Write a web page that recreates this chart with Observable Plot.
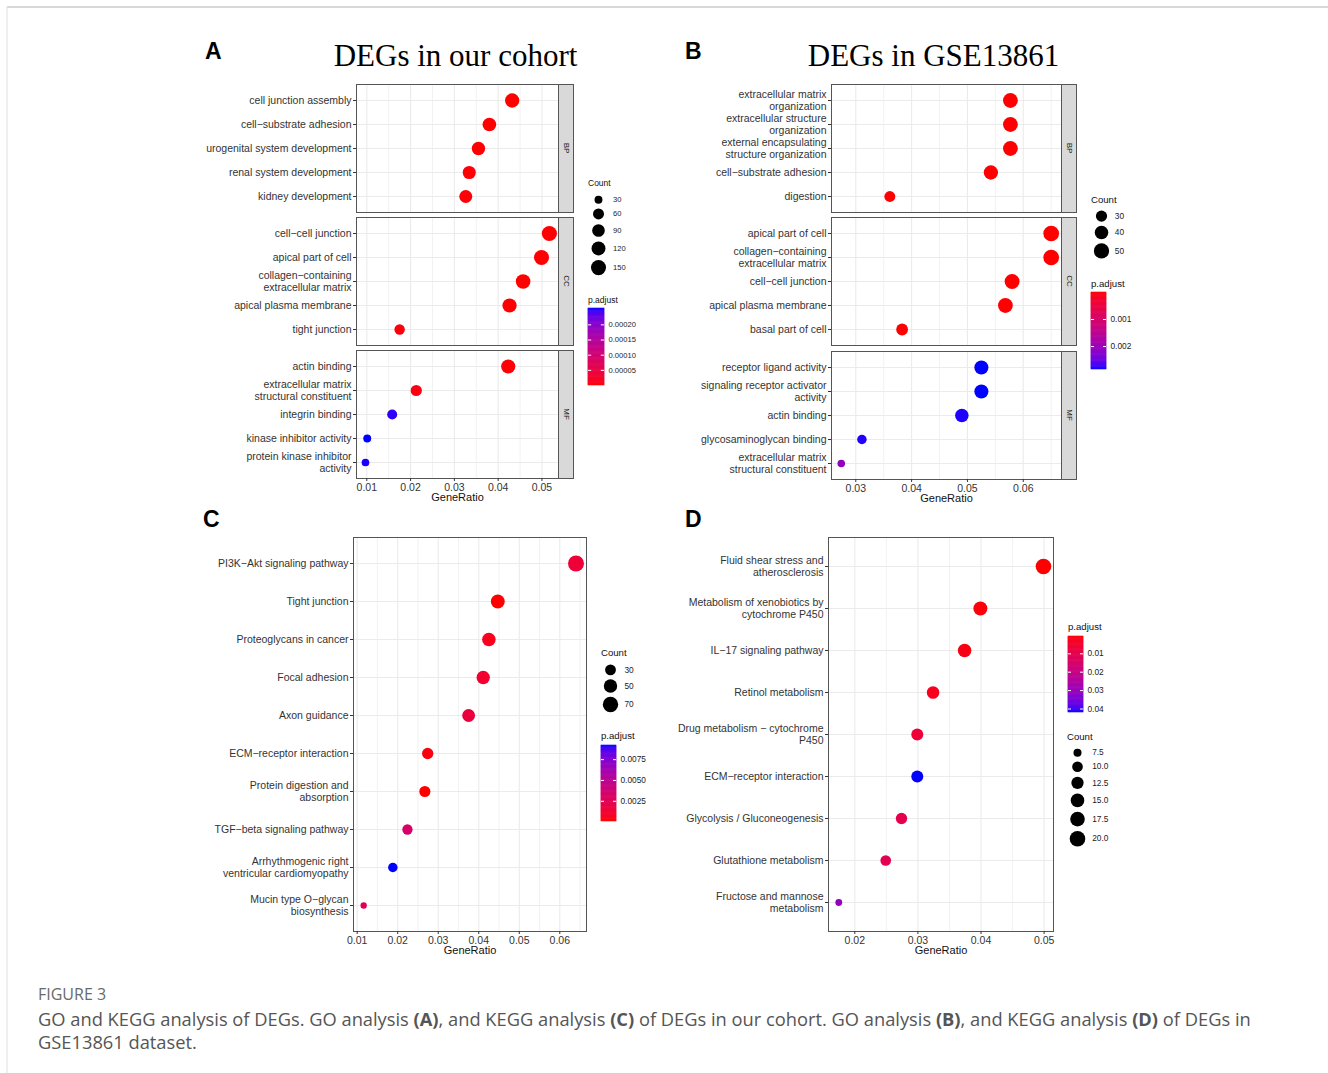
<!DOCTYPE html>
<html><head><meta charset="utf-8">
<script src="https://cdn.jsdelivr.net/npm/d3@7"></script>
<script src="https://cdn.jsdelivr.net/npm/@observablehq/plot@0.6"></script>
<style>
body{margin:0;background:#fff;}
#root{position:relative;width:1328px;height:1073px;overflow:hidden;background:#fff;}
.cap{position:absolute;left:38px;font-family:"Open Sans","Noto Sans",sans-serif;font-size:18.3px;line-height:23px;white-space:nowrap;}
</style></head><body><div id="root"></div>
<script>
// ---------------- DATA ----------------
// Panel A : DEGs in our cohort (GO)
const aBPTerms = ["cell junction assembly","cell−substrate adhesion","urogenital system development","renal system development","kidney development"];
const aBPRatio = [0.0432,0.0380,0.0355,0.0334,0.0326];
const aBPCount = [130,114,107,100,98];
const aBPPadj  = [2e-8,4e-7,1e-6,2e-6,3e-6];
const aCCTerms = ["cell−cell junction","apical part of cell","collagen−containing\nextracellular matrix","apical plasma membrane","tight junction"];
const aCCRatio = [0.0517,0.0499,0.0457,0.0426,0.0175];
const aCCCount = [155,150,137,128,52];
const aCCPadj  = [1e-8,5e-8,3e-7,6e-7,4e-6];
const aMFTerms = ["actin binding","extracellular matrix\nstructural constituent","integrin binding","kinase inhibitor activity","protein kinase inhibitor\nactivity"];
const aMFRatio = [0.0423,0.0213,0.0158,0.0101,0.0097];
const aMFCount = [127,64,47,30,29];
const aMFPadj  = [2e-6,8e-6,0.000248,0.000254,0.000252];
// Panel B : DEGs in GSE13861 (GO)
const bBPTerms = ["extracellular matrix\norganization","extracellular structure\norganization","external encapsulating\nstructure organization","cell−substrate adhesion","digestion"];
const bBPRatio = [0.0577,0.0577,0.0577,0.0542,0.0361];
const bBPCount = [47,47,47,44,29];
const bBPPadj  = [1e-10,1e-10,1e-10,3e-8,4e-6];
const bCCTerms = ["apical part of cell","collagen−containing\nextracellular matrix","cell−cell junction","apical plasma membrane","basal part of cell"];
const bCCRatio = [0.0650,0.0650,0.0580,0.0568,0.0383];
const bCCCount = [53,53,48,47,32];
const bCCPadj  = [2e-9,2e-9,1e-8,3e-8,5e-6];
const bMFTerms = ["receptor ligand activity","signaling receptor activator\nactivity","actin binding","glycosaminoglycan binding","extracellular matrix\nstructural constituent"];
const bMFRatio = [0.0525,0.0525,0.0490,0.0311,0.0274];
const bMFCount = [43,43,40,25,22];
const bMFPadj  = [0.00285,0.00285,0.00282,0.00281,0.00215];
// Panel C : KEGG, our cohort
const cTerms = ["PI3K−Akt signaling pathway","Tight junction","Proteoglycans in cancer","Focal adhesion","Axon guidance","ECM−receptor interaction","Protein digestion and\nabsorption","TGF−beta signaling pathway","Arrhythmogenic right\nventricular cardiomyopathy","Mucin type O−glycan\nbiosynthesis"];
const cRatio = [0.0640,0.0447,0.0425,0.0411,0.0375,0.0274,0.0267,0.0224,0.0188,0.0116];
const cCount = [77,54,51,49,45,33,32,27,23,14];
const cPadj  = [0.0015,0.00008,0.0006,0.0012,0.0017,0.0003,0.00007,0.0033,0.0092,0.0027];
// Panel D : KEGG, GSE13861
const dTerms = ["Fluid shear stress and\natherosclerosis","Metabolism of xenobiotics by\ncytochrome P450","IL−17 signaling pathway","Retinol metabolism","Drug metabolism − cytochrome\nP450","ECM−receptor interaction","Glycolysis / Gluconeogenesis","Glutathione metabolism","Fructose and mannose\nmetabolism"];
const dRatio = [0.0499,0.0399,0.0374,0.0324,0.0299,0.0299,0.0274,0.0249,0.01746];
const dCount = [20,16,15,13,12,12,11,10,7];
const dPadj  = [0.0006,0.0012,0.0020,0.0030,0.007,0.0419,0.0105,0.0115,0.031];
// tick labels
const aTicks = [0.01,0.02,0.03,0.04,0.05];
const bTicks = [0.03,0.04,0.05,0.06];
const cTicks = [0.01,0.02,0.03,0.04,0.05,0.06];
const dTicks = [0.02,0.03,0.04,0.05];
const aCountBreaks = [30,60,90,120,150];
const bCountBreaks = [30,40,50];
const cCountBreaks = [30,50,70];
const dCountBreaks = [7.5,10,12.5,15,17.5,20];
const aPBreaks = [0.00005,0.0001,0.00015,0.0002];
const bPBreaks = [0.001,0.002];
const cPBreaks = [0.0025,0.005,0.0075];
const dPBreaks = [0.01,0.02,0.03,0.04];

// ---------------- HELPERS ----------------
const FONT = "'Liberation Sans', Arial, Helvetica, sans-serif";
const root = document.getElementById("root");
const zip = (t, r, c, p) => t.map((term, i) => ({term, ratio: r[i], count: c[i], p: p[i]}));
const colorSpec = domain => ({type: "linear", domain, range: ["red", "blue"], interpolate: "lab"});
const rSpec = (c0, cmax, rmin, rmax) => ({type: "sqrt", domain: [0, cmax - c0], range: [rmin, rmax]});
const minor = (ticks) => ticks.map(t => t + 0.005);

function place(el, left, top) {
  el.style.position = "absolute";
  el.style.left = left + "px";
  el.style.top = top + "px";
  root.appendChild(el);
  return el;
}

function facet({rows, fx0, fx1, top, h, xDomain, xTicks, xMinor, showX, cDomain, rS, c0}) {
  const ml = 230, mr = 1, mt = 1, mb = showX ? 34 : 1;
  const w = fx1 - fx0;
  const p = Plot.plot({
    width: ml + w + mr, height: mt + h + mb,
    marginLeft: ml, marginRight: mr, marginTop: mt, marginBottom: mb,
    style: {fontFamily: FONT, fontSize: "10.5px", background: "none", overflow: "visible", color: "#333"},
    x: {domain: xDomain, axis: null},
    y: {type: "point", domain: rows.map(d => d.term), padding: 0.6, axis: null},
    color: colorSpec(cDomain),
    r: rS,
    marks: [
      Plot.gridX(xMinor.filter(t => t > xDomain[0] && t < xDomain[1]), {stroke: "#ededed", strokeOpacity: 1, strokeWidth: 0.7}),
      Plot.gridX(xTicks, {stroke: "#ebebeb", strokeOpacity: 1, strokeWidth: 1.1}),
      Plot.gridY({stroke: "#ebebeb", strokeOpacity: 1, strokeWidth: 1.1}),
      Plot.dot(rows, {x: "ratio", y: "term", r: d => d.count - c0, fill: "p"}),
      Plot.frame({stroke: "#555", strokeWidth: 1}),
      Plot.axisY({tickSize: 3, tickPadding: 2, label: null, lineHeight: 1.1, color: "#333"}),
      ...(showX ? [
        Plot.axisX({ticks: xTicks, tickFormat: d3.format(".2f"), tickSize: 3, tickPadding: 2, label: null, color: "#333"}),
        Plot.text(["GeneRatio"], {text: d => d, frameAnchor: "bottom", dy: 22, fontSize: 11, fill: "#111"})
      ] : [])
    ]
  });
  place(p, fx0 - ml, top - mt);
  return p;
}

function countLegend({values, c0, rS, cx, firstY, lx, fontSize, pad, fmt}) {
  const sc = Plot.scale({r: rS});
  const radii = values.map(v => sc.apply(v - c0));
  const hs = radii.map(r => 2 * r + pad);
  const centers = [];
  let acc = 0;
  hs.forEach(hh => { centers.push(acc + hh / 2); acc += hh; });
  const H = Math.ceil(acc), W = 70, cx0 = 15, lx0 = lx - (cx - cx0);
  const p = Plot.plot({
    width: W, height: H, marginLeft: 0, marginRight: 0, marginTop: 0, marginBottom: 0,
    x: {domain: [0, W], range: [0, W], axis: null},
    y: {domain: [0, H], range: [0, H], axis: null},
    r: rS,
    style: {fontFamily: FONT, background: "none", overflow: "visible"},
    marks: [
      Plot.dot(values, {x: () => cx0, y: (d, i) => centers[i], r: d => d - c0, fill: "black"}),
      Plot.text(values, {x: () => lx0, y: (d, i) => centers[i], text: d => fmt(d), textAnchor: "start", fontSize, fill: "#222"})
    ]
  });
  place(p, cx - cx0, firstY - centers[0]);
}

function colorbar({left, top, w, h, domain, reverse, ticks, fmt, fontSize}) {
  const n = 90, [a, b] = domain;
  const bins = d3.range(n).map(i => [a + (b - a) * i / n, a + (b - a) * (i + 1) / n]);
  const p = Plot.plot({
    width: w + 50, height: h, marginLeft: 0, marginRight: 50, marginTop: 0, marginBottom: 0,
    x: {domain: [0, 1], axis: null},
    y: {domain, range: reverse ? [0, h] : [h, 0], axis: null},
    color: colorSpec(domain),
    style: {fontFamily: FONT, background: "none", overflow: "visible"},
    marks: [
      Plot.rect(bins, {x1: 0, x2: 1, y1: d => d[0], y2: d => d[1], fill: d => (d[0] + d[1]) / 2, stroke: d => (d[0] + d[1]) / 2, strokeWidth: 0.6}),
      Plot.ruleY(ticks, {x1: 0, x2: 0.2, stroke: "white", strokeWidth: 1}),
      Plot.ruleY(ticks, {x1: 0.8, x2: 1, stroke: "white", strokeWidth: 1}),
      Plot.axisY({anchor: "right", ticks, tickFormat: d3.format(fmt), tickSize: 0, tickPadding: 4, fontSize, color: "#222", label: null})
    ]
  });
  place(p, left, top);
}

// ---------------- PANELS ----------------
const aRows = [zip(aBPTerms, aBPRatio, aBPCount, aBPPadj), zip(aCCTerms, aCCRatio, aCCCount, aCCPadj), zip(aMFTerms, aMFRatio, aMFCount, aMFPadj)];
const bRows = [zip(bBPTerms, bBPRatio, bBPCount, bBPPadj), zip(bCCTerms, bCCRatio, bCCCount, bCCPadj), zip(bMFTerms, bMFRatio, bMFCount, bMFPadj)];
const cRows = zip(cTerms, cRatio, cCount, cPadj);
const dRows = zip(dTerms, dRatio, dCount, dPadj);

const aC = d3.extent(aRows.flat(), d => d.p);
const bC = d3.extent(bRows.flat(), d => d.p);
const cC = d3.extent(cRows, d => d.p);
const dC = d3.extent(dRows, d => d.p);

const aR = {c0: 27, rS: rSpec(27, 155, 3.3, 7.6)};
const bR = {c0: 21.5, rS: rSpec(21.5, 55, 3.2, 8)};
const cR = {c0: 13.5, rS: rSpec(13.5, 77, 2.7, 8)};
const dR = {c0: 6.9, rS: rSpec(6.9, 20, 3, 7.8)};

const facetTopsA = [84, 217, 350];
const facetTopsB = [84, 217, 351];
aRows.forEach((rows, i) => facet({rows, fx0: 356, fx1: 558, top: facetTopsA[i], h: 128, xDomain: [0.00765, 0.05378], xTicks: aTicks, xMinor: minor([0.0, ...aTicks]), showX: i === 2, cDomain: aC, ...aR}));
bRows.forEach((rows, i) => facet({rows, fx0: 831, fx1: 1061, top: facetTopsB[i], h: 128, xDomain: [0.02565, 0.06685], xTicks: bTicks, xMinor: minor([0.02, ...bTicks]), showX: i === 2, cDomain: bC, ...bR}));
facet({rows: cRows, fx0: 353, fx1: 586, top: 537, h: 394, xDomain: [0.00909, 0.06659], xTicks: cTicks, xMinor: minor([0.0, ...cTicks]), showX: true, cDomain: cC, ...cR});
facet({rows: dRows, fx0: 828, fx1: 1053, top: 537, h: 394, xDomain: [0.01583, 0.05149], xTicks: dTicks, xMinor: minor([0.01, ...dTicks]), showX: true, cDomain: dC, ...dR});

// legends
countLegend({values: aCountBreaks, ...aR, cx: 597.5, firstY: 199.3, lx: 612, fontSize: 7.6, pad: 4.7, fmt: d3.format("d")});
countLegend({values: bCountBreaks, ...bR, cx: 1100.7, firstY: 215.7, lx: 1114, fontSize: 8.3, pad: 4, fmt: d3.format("d")});
countLegend({values: cCountBreaks, ...cR, cx: 610, firstY: 669.3, lx: 624, fontSize: 8.3, pad: 4, fmt: d3.format("d")});
countLegend({values: dCountBreaks, ...dR, cx: 1077.3, firstY: 752.7, lx: 1092, fontSize: 8.3, pad: 4.6, fmt: d3.format(".1f")});

colorbar({left: 588, top: 308, w: 16, h: 77, domain: aC, reverse: false, ticks: aPBreaks, fmt: ".5f", fontSize: 7.6});
colorbar({left: 1091, top: 292, w: 15, h: 77, domain: bC, reverse: true, ticks: bPBreaks, fmt: ".3f", fontSize: 8.3});
colorbar({left: 601, top: 745, w: 15, h: 76, domain: cC, reverse: false, ticks: cPBreaks, fmt: ".4f", fontSize: 8.3});
colorbar({left: 1068, top: 636, w: 15, h: 76, domain: dC, reverse: true, ticks: dPBreaks, fmt: ".2f", fontSize: 8.3});

// ---------------- OVERLAY (titles, strips, legend titles) ----------------
const NS = "http://www.w3.org/2000/svg";
const ov = document.createElementNS(NS, "svg");
ov.setAttribute("width", 1328); ov.setAttribute("height", 1073);
ov.style.position = "absolute"; ov.style.left = "0px"; ov.style.top = "0px"; ov.style.pointerEvents = "none";
root.appendChild(ov);
function svgEl(tag, attrs, text) {
  const e = document.createElementNS(NS, tag);
  for (const k in attrs) e.setAttribute(k, attrs[k]);
  if (text != null) e.textContent = text;
  ov.appendChild(e);
  return e;
}
// page frame
svgEl("line", {x1: 7, y1: 7, x2: 1328, y2: 7, stroke: "#d8d8d8", "stroke-width": 2});
svgEl("line", {x1: 7, y1: 7, x2: 7, y2: 1073, stroke: "#e0e0e0", "stroke-width": 1});
// strips
const stripNames = ["BP", "CC", "MF"];
function strips(x0, tops) {
  tops.forEach((t, i) => {
    svgEl("rect", {x: x0 + 0.5, y: t + 0.5, width: 15, height: 128, fill: "#d9d9d9", stroke: "#555", "stroke-width": 1});
    svgEl("text", {transform: `translate(${x0 + 8},${t + 64}) rotate(90)`, "text-anchor": "middle", "dominant-baseline": "central", "font-family": FONT, "font-size": 8, fill: "#1a1a1a"}, stripNames[i]);
  });
}
strips(558, facetTopsA);
strips(1061, facetTopsB);
// panel letters and titles
[["A", 205, 59], ["B", 685, 59], ["C", 203, 527], ["D", 685, 527]].forEach(([t, x, y]) =>
  svgEl("text", {x, y, "font-family": FONT, "font-weight": "bold", "font-size": 23, fill: "#000"}, t));
svgEl("text", {x: 455.5, y: 66, "text-anchor": "middle", "font-family": "'Liberation Serif', 'Times New Roman', serif", "font-size": 31, fill: "#000"}, "DEGs in our cohort");
svgEl("text", {x: 933.5, y: 66, "text-anchor": "middle", "font-family": "'Liberation Serif', 'Times New Roman', serif", "font-size": 31, fill: "#000"}, "DEGs in GSE13861");
// legend titles
[["Count", 588, 182.7, 8.5], ["p.adjust", 588, 300, 8.5],
 ["Count", 1091, 199, 9.6], ["p.adjust", 1091, 283.3, 9.6],
 ["Count", 601, 652.7, 9.6], ["p.adjust", 601, 735.7, 9.6],
 ["p.adjust", 1068, 626.7, 9.6], ["Count", 1067, 736, 9.6]].forEach(([t, x, y, fs]) =>
  svgEl("text", {x, y, "dominant-baseline": "central", "font-family": FONT, "font-size": fs, fill: "#111"}, t));

// caption
const f3 = document.createElement("div");
f3.className = "cap"; f3.style.top = "983px"; f3.style.color = "#6a6a6a"; f3.style.fontSize = "16px"; f3.textContent = "FIGURE 3";
root.appendChild(f3);
const cap = document.createElement("div");
cap.className = "cap"; cap.style.top = "1007px"; cap.style.color = "#555";
cap.innerHTML = "GO and KEGG analysis of DEGs. GO analysis <b>(A)</b>, and KEGG analysis <b>(C)</b> of DEGs in our cohort. GO analysis <b>(B)</b>, and KEGG analysis <b>(D)</b> of DEGs in<br>GSE13861 dataset.";
root.appendChild(cap);
</script></body></html>
